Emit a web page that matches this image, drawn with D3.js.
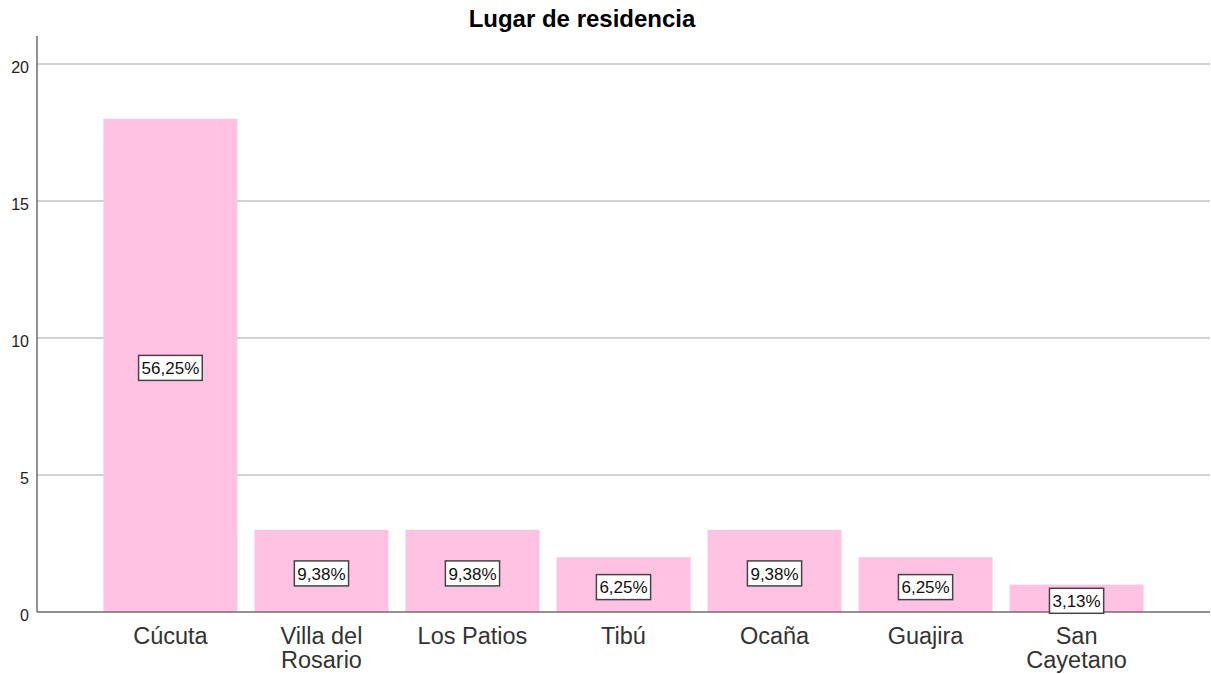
<!DOCTYPE html>
<html>
<head>
<meta charset="utf-8">
<script src="https://cdn.jsdelivr.net/npm/d3@7"></script>
<style>
  body { margin: 0; background: #fff; }
  text { font-family: "Liberation Sans", Arial, sans-serif; }
</style>
</head>
<body>
<div id="plot"></div>
<script>
const categories = ['Cúcuta', 'Villa del|Rosario', 'Los Patios', 'Tibú', 'Ocaña', 'Guajira', 'San|Cayetano'];
const counts = [18, 3, 3, 2, 3, 2, 1];
const yTicks = [0, 5, 10, 15, 20];
const title = 'Lugar de residencia';

const svgWidth = 1211;
const svgHeight = 674;
const margin = {top: 36, bottom: 62, left: 37, right: 1};

const svg = d3.select('#plot').append('svg')
    .attr('width', svgWidth)
    .attr('height', svgHeight);

const x = d3.scaleBand()
    .domain(categories)
    .range([margin.left, svgWidth - margin.right])
    .paddingInner(0.113)
    .paddingOuter(0.44);

const y = d3.scaleLinear()
    .domain([0, 20])
    .range([svgHeight - margin.bottom, 64]);

const total = d3.sum(counts);

// gridlines
svg.append('g')
    .selectAll('line')
    .data(yTicks.filter(t => t > 0))
    .enter()
    .append('line')
    .attr('x1', margin.left)
    .attr('x2', svgWidth - margin.right)
    .attr('y1', d => y(d))
    .attr('y2', d => y(d))
    .attr('stroke', '#d2d2d2')
    .attr('stroke-width', 2);

// y tick labels
svg.append('g')
    .selectAll('text')
    .data(yTicks)
    .enter()
    .append('text')
    .attr('x', 29)
    .attr('y', d => y(d) + 3)
    .attr('dy', '0.35em')
    .attr('text-anchor', 'end')
    .style('font-size', '16px')
    .style('fill', '#222')
    .text(d => d);

// bars
svg.append('g')
    .selectAll('rect')
    .data(counts)
    .enter()
    .append('rect')
    .attr('x', (d, i) => x(categories[i]))
    .attr('y', d => y(d))
    .attr('width', x.bandwidth())
    .attr('height', d => y(0) - y(d))
    .attr('fill', '#ffc2e2');

// axes lines
svg.append('line')
    .attr('x1', margin.left).attr('x2', margin.left)
    .attr('y1', margin.top).attr('y2', y(0))
    .attr('stroke', '#6e6e6e').attr('stroke-width', 1.5);
svg.append('line')
    .attr('x1', margin.left).attr('x2', svgWidth - margin.right)
    .attr('y1', y(0)).attr('y2', y(0))
    .attr('stroke', '#6e6e6e').attr('stroke-width', 1.5);

// percentage labels
const labels = svg.append('g')
    .selectAll('g')
    .data(counts)
    .enter()
    .append('g')
    .attr('transform', (d, i) => {
      const cx = x(categories[i]) + x.bandwidth() / 2;
      const cy = (y(d) + y(0)) / 2 + 2.5;
      return `translate(${cx},${cy})`;
    });

labels.append('rect')
    .attr('fill', '#fff')
    .attr('stroke', '#444')
    .attr('stroke-width', 1.5);

labels.append('text')
    .attr('text-anchor', 'middle')
    .attr('dy', '0.36em')
    .style('font-size', '17px')
    .style('fill', '#111')
    .text(d => d3.format('.2f')(d / total * 100).replace('.', ',') + '%')
    .each(function () {
      const w = this.getComputedTextLength() + 6;
      d3.select(this.parentNode).select('rect')
          .attr('x', -w / 2)
          .attr('y', -12.5)
          .attr('width', w)
          .attr('height', 25);
    });

// category labels
const catLabels = svg.append('g')
    .selectAll('text')
    .data(categories)
    .enter()
    .append('text')
    .attr('x', d => x(d) + x.bandwidth() / 2)
    .attr('y', 644)
    .attr('text-anchor', 'middle')
    .style('font-size', '23.5px')
    .style('fill', '#333');

catLabels.each(function (d) {
  const parts = d.split('|');
  const t = d3.select(this);
  parts.forEach((p, j) => {
    t.append('tspan')
        .attr('x', x(d) + x.bandwidth() / 2)
        .attr('dy', j === 0 ? 0 : 24)
        .text(p);
  });
});

// title
svg.append('text')
    .attr('x', 582)
    .attr('y', 27)
    .attr('text-anchor', 'middle')
    .style('font-size', '24px')
    .style('font-weight', 'bold')
    .style('fill', '#000')
    .text(title);
</script>
</body>
</html>
